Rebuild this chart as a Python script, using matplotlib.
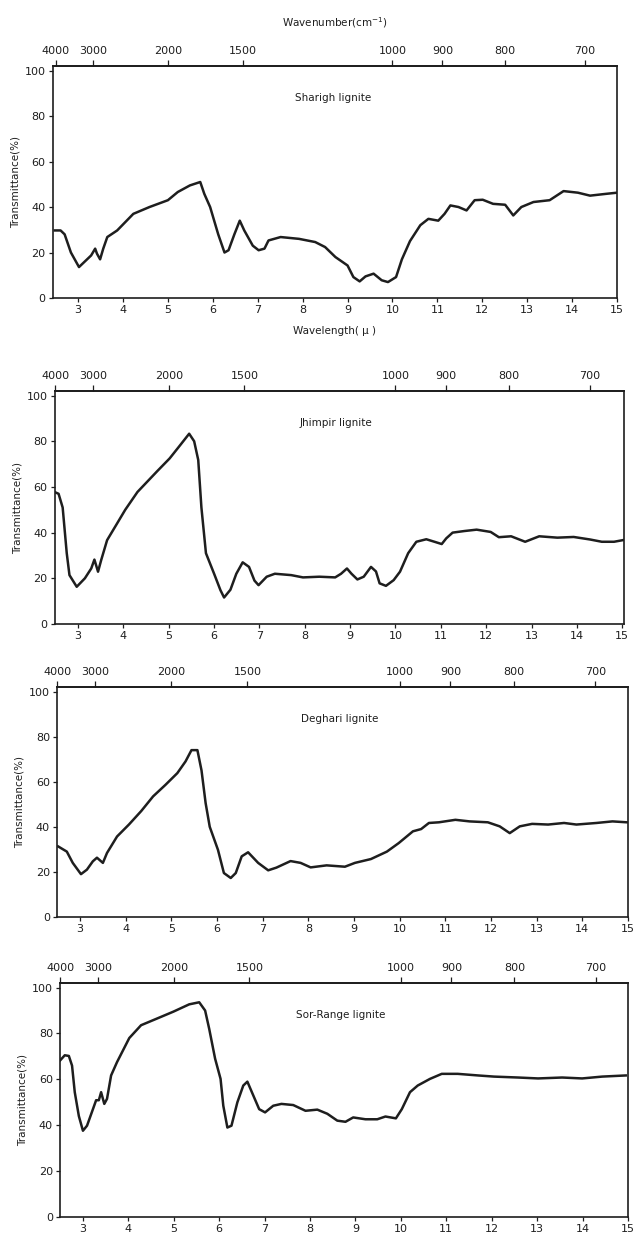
import matplotlib
matplotlib.use("Agg")
import matplotlib.pyplot as plt

# IR spectra of four lignites: wavelength (micron) vs transmittance (%)
sharigh_wl = [2.48, 2.61, 2.70, 2.84, 3.02, 3.20, 3.29, 3.38, 3.42, 3.49, 3.56, 3.65, 3.87,
              4.23, 4.59, 5.00, 5.22, 5.49, 5.72, 5.81, 5.94, 6.12, 6.26, 6.35, 6.48, 6.60,
              6.70, 6.89, 7.02, 7.15, 7.24, 7.51, 7.92, 8.28, 8.50, 8.73, 9.00, 9.13, 9.27,
              9.40, 9.58, 9.76, 9.90, 10.08, 10.21, 10.39, 10.62, 10.80, 11.02, 11.16, 11.29,
              11.47, 11.65, 11.83, 12.01, 12.24, 12.51, 12.69, 12.87, 13.14, 13.50, 13.81,
              14.13, 14.40, 14.76, 15.00]
sharigh_t = [29.7, 29.7, 28.0, 20.0, 13.6, 17.0, 18.7, 21.7, 19.5, 17.0, 21.7, 26.8, 29.7,
             37.0, 40.0, 43.0, 46.6, 49.5, 51.0, 45.8, 40.0, 28.0, 20.0, 21.0, 28.0, 34.0,
             29.7, 23.0, 21.0, 21.7, 25.3, 26.8, 26.0, 24.6, 22.4, 18.0, 14.3, 9.2, 7.3,
             9.5, 10.7, 7.8, 7.0, 9.2, 17.0, 25.0, 32.0, 34.8, 34.0, 37.0, 40.7,
             40.0, 38.5, 43.0, 43.2, 41.4, 41.0, 36.3, 40.0, 42.2, 43.0, 47.0,
             46.3, 45.0, 45.8, 46.3]

jhimpir_wl = [2.48, 2.57, 2.66, 2.75, 2.81, 2.97, 3.15, 3.29, 3.36, 3.44, 3.51, 3.64, 3.86,
              4.04, 4.31, 4.75, 5.02, 5.24, 5.45, 5.56, 5.65, 5.72, 5.82, 6.00, 6.14, 6.22,
              6.36, 6.49, 6.63, 6.77, 6.89, 6.98, 7.16, 7.34, 7.70, 7.96, 8.32, 8.67, 8.80,
              8.93, 9.03, 9.16, 9.30, 9.46, 9.57, 9.65, 9.79, 9.96, 10.10, 10.28, 10.46,
              10.68, 10.86, 11.02, 11.12, 11.26, 11.52, 11.79, 12.10, 12.28, 12.55, 12.86,
              13.17, 13.57, 13.93, 14.29, 14.55, 14.82, 15.04]
jhimpir_t = [57.8, 57.0, 51.0, 31.0, 21.4, 16.3, 20.0, 24.3, 28.2, 22.9, 28.0, 36.7, 44.0,
             50.0, 57.8, 67.0, 72.5, 78.0, 83.3, 80.0, 71.8, 51.0, 31.0, 22.0, 14.8, 11.6,
             15.0, 22.0, 27.0, 25.0, 19.0, 17.0, 20.7, 22.0, 21.4, 20.4, 20.7, 20.4, 22.0,
             24.3, 22.0, 19.5, 20.7, 25.0, 23.0, 17.8, 16.7, 19.2, 22.9, 31.0, 36.0,
             37.1, 36.0, 35.0, 37.5, 40.0, 40.7, 41.3, 40.3, 38.0, 38.4, 36.0,
             38.4, 37.8, 38.1, 37.0, 36.0, 36.0, 36.8]

deghari_wl = [2.52, 2.71, 2.84, 3.02, 3.15, 3.28, 3.37, 3.50, 3.59, 3.81, 4.07, 4.34, 4.60,
              4.87, 5.13, 5.31, 5.44, 5.57, 5.66, 5.75, 5.84, 6.02, 6.15, 6.30, 6.41, 6.54,
              6.68, 6.90, 7.12, 7.30, 7.61, 7.83, 8.05, 8.40, 8.80, 9.02, 9.37, 9.72, 9.98,
              10.29, 10.47, 10.64, 10.86, 11.22, 11.53, 11.93, 12.19, 12.41, 12.63, 12.90,
              13.25, 13.60, 13.87, 14.31, 14.66, 14.97]
deghari_t = [31.3, 29.0, 24.0, 19.0, 21.0, 24.7, 26.3, 24.0, 28.4, 35.7, 41.0, 47.0, 53.5,
             58.6, 63.8, 69.0, 74.0, 74.0, 65.0, 50.5, 40.0, 29.8, 19.5, 17.3, 19.5, 26.9,
             28.7, 24.0, 20.7, 21.9, 24.8, 24.0, 22.0, 22.9, 22.3, 24.0, 25.7, 29.0, 32.8,
             38.0, 39.0, 41.7, 42.0, 43.1, 42.4, 42.0, 40.2, 37.2, 40.2, 41.3,
             41.0, 41.7, 41.0, 41.7, 42.4, 42.0]

sorrange_wl = [2.50, 2.60, 2.69, 2.76, 2.82, 2.91, 3.00, 3.09, 3.22, 3.29, 3.35, 3.40, 3.47,
               3.53, 3.62, 3.75, 4.02, 4.28, 4.63, 4.99, 5.34, 5.56, 5.69, 5.78, 5.91, 6.03,
               6.09, 6.18, 6.27, 6.40, 6.53, 6.62, 6.75, 6.88, 7.01, 7.19, 7.37, 7.63, 7.90,
               8.16, 8.38, 8.60, 8.78, 8.95, 9.22, 9.48, 9.66, 9.89, 10.02, 10.20, 10.37,
               10.64, 10.90, 11.25, 11.70, 12.05, 12.58, 13.02, 13.55, 13.99, 14.43, 14.95]
sorrange_t = [68.3, 70.5, 70.2, 66.0, 54.4, 44.0, 37.6, 39.8, 47.0, 50.9, 50.9, 54.4, 49.3,
              51.5, 61.7, 67.5, 78.0, 83.6, 86.5, 89.5, 92.7, 93.6, 90.0, 82.0, 69.0, 60.2,
              48.5, 39.0, 39.8, 50.0, 57.3, 59.0, 53.0, 47.0, 45.6, 48.5, 49.3, 48.8, 46.3,
              46.8, 45.0, 42.0, 41.5, 43.4, 42.6, 42.6, 43.8, 43.0, 47.0, 54.4, 57.3,
              60.2, 62.4, 62.4, 61.7, 61.2, 60.8, 60.4, 60.8, 60.4, 61.2, 61.7]

names = ["Sharigh lignite", "Jhimpir lignite", "Deghari lignite", "Sor-Range lignite"]
wavelengths = [sharigh_wl, jhimpir_wl, deghari_wl, sorrange_wl]
transmit = [sharigh_t, jhimpir_t, deghari_t, sorrange_t]

wl_ticks = list(range(3, 16))
wn_ticks = [4000, 3000, 2000, 1500, 1000, 900, 800, 700]
t_ticks = [0, 20, 40, 60, 80, 100]

W, H = 633, 1235
# pixel boxes (left, right, top, bottom) and x limits per panel
boxes = [(52.5, 617, 66, 298), (54.5, 624, 391, 624), (57, 628, 687, 917), (60, 628, 983, 1217)]
xlims = [(2.43, 15.0), (2.48, 15.04), (2.495, 14.97), (2.495, 14.95)]

fig = plt.figure(figsize=(W / 100, H / 100), dpi=100)
fig.patch.set_facecolor("white")

ink = "#1e1e1e"
for i in range(4):
    l, r, t, b = boxes[i]
    ax = fig.add_axes([l / W, 1 - b / H, (r - l) / W, (b - t) / H])
    ax.plot(wavelengths[i], transmit[i], color=ink, lw=1.8, solid_joinstyle="round")
    ax.set_xlim(*xlims[i])
    ax.set_ylim(0, 102)
    ax.set_xticks(wl_ticks)
    ax.set_yticks(t_ticks)
    ax.tick_params(axis="both", direction="out", length=3, width=0.9, labelsize=8,
                   pad=2, colors=ink)
    for s in ax.spines.values():
        s.set_linewidth(1.2)
        s.set_color(ink)
    ax.set_ylabel("Transmittance(%)", fontsize=7.5, labelpad=3, color=ink)
    ax.text(8.68, 88, names[i], ha="center", va="center", fontsize=7.5, color=ink)

    top = ax.secondary_xaxis("top", functions=(lambda x: 1e4 / x, lambda x: 1e4 / x))
    top.set_xticks(wn_ticks)
    top.set_xticklabels([str(v) for v in wn_ticks])
    top.tick_params(direction="out", length=4, width=0.9, labelsize=8, pad=3, colors=ink)
    top.spines["top"].set_linewidth(1.2)

    if i == 0:
        ax.set_xlabel("Wavelength( \u00b5 )", fontsize=7.5, labelpad=8, color=ink)
        top.set_xlabel("Wavenumber(cm$^{-1}$)", fontsize=7.5, labelpad=14, color=ink)

fig.savefig("out.png", dpi=100, facecolor="white")
